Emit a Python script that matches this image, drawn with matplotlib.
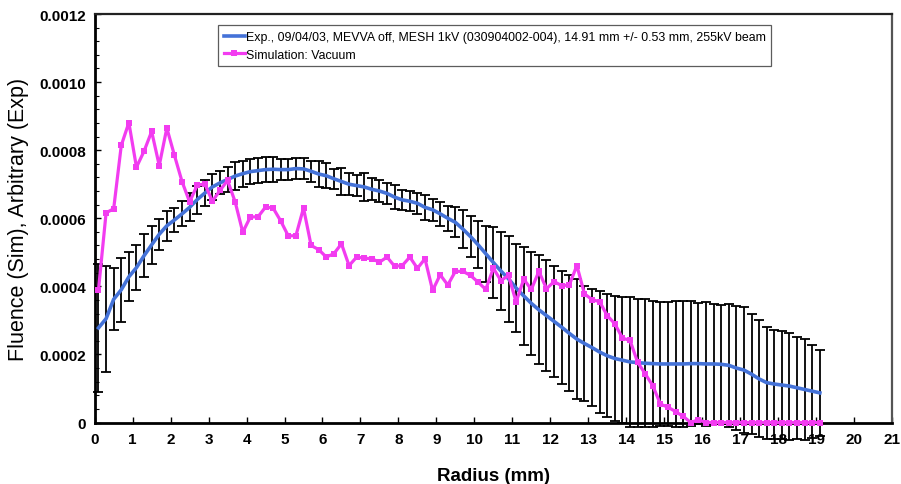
import matplotlib
matplotlib.use("Agg")
import matplotlib.pyplot as plt
from matplotlib.ticker import MultipleLocator, FixedLocator

plt.rcParams['font.family'] = ['Liberation Sans', 'DejaVu Sans']

# Radial sample positions (mm)
radius = [0.1, 0.3, 0.5, 0.7, 0.9, 1.1, 1.3, 1.5, 1.7, 1.9,
          2.1, 2.3, 2.5, 2.7, 2.9, 3.1, 3.3, 3.5, 3.7, 3.9,
          4.1, 4.3, 4.5, 4.7, 4.9, 5.1, 5.3, 5.5, 5.7, 5.9,
          6.1, 6.3, 6.5, 6.7, 6.9, 7.1, 7.3, 7.5, 7.7, 7.9,
          8.1, 8.3, 8.5, 8.7, 8.9, 9.1, 9.3, 9.5, 9.7, 9.9,
          10.1, 10.3, 10.5, 10.7, 10.9, 11.1, 11.3, 11.5, 11.7, 11.9,
          12.1, 12.3, 12.5, 12.7, 12.9, 13.1, 13.3, 13.5, 13.7, 13.9,
          14.1, 14.3, 14.5, 14.7, 14.9, 15.1, 15.3, 15.5, 15.7, 15.9,
          16.1, 16.3, 16.5, 16.7, 16.9, 17.1, 17.3, 17.5, 17.7, 17.9,
          18.1, 18.3, 18.5, 18.7, 18.9, 19.1]

# Measured profile (arbitrary units) and its uncertainty
exp_fluence = [0.000278, 0.000305, 0.000362, 0.000390, 0.000428, 0.000455, 0.000490, 0.000522, 0.000553, 0.000578,
               0.000595, 0.000613, 0.000632, 0.000655, 0.000674, 0.000692, 0.000704, 0.000714, 0.000724, 0.000731,
               0.000737, 0.000740, 0.000743, 0.000744, 0.000743, 0.000743, 0.000746, 0.000745, 0.000738, 0.000730,
               0.000725, 0.000716, 0.000708, 0.000700, 0.000696, 0.000692, 0.000685, 0.000680, 0.000673, 0.000662,
               0.000654, 0.000650, 0.000644, 0.000632, 0.000625, 0.000613, 0.000600, 0.000588, 0.000568, 0.000546,
               0.000522, 0.000496, 0.000470, 0.000445, 0.000422, 0.000395, 0.000372, 0.000350, 0.000331, 0.000314,
               0.000297, 0.000280, 0.000262, 0.000245, 0.000232, 0.000220, 0.000207, 0.000196, 0.000188, 0.000183,
               0.000178, 0.000176, 0.000174, 0.000173, 0.000172, 0.000172, 0.000172, 0.000172, 0.000173, 0.000173,
               0.000172, 0.000172, 0.000171, 0.000168, 0.000160, 0.000154, 0.000142, 0.000128, 0.000117, 0.000113,
               0.000110, 0.000107, 0.000102, 0.000097, 0.000092, 0.000087]

exp_error = [0.000188, 0.000156, 0.000091, 0.000094, 0.000072, 0.000065, 0.000063, 0.000055, 0.000046, 0.000044,
             0.000035, 0.000037, 0.000041, 0.000041, 0.000037, 0.000037, 0.000034, 0.000038, 0.000040, 0.000038,
             0.000037, 0.000037, 0.000037, 0.000036, 0.000030, 0.000032, 0.000032, 0.000031, 0.000031, 0.000037,
             0.000037, 0.000030, 0.000039, 0.000032, 0.000030, 0.000040, 0.000032, 0.000031, 0.000032, 0.000035,
             0.000030, 0.000030, 0.000030, 0.000037, 0.000032, 0.000035, 0.000037, 0.000044, 0.000056, 0.000061,
             0.000069, 0.000082, 0.000103, 0.000114, 0.000127, 0.000129, 0.000144, 0.000152, 0.000160, 0.000162,
             0.000164, 0.000166, 0.000170, 0.000176, 0.000170, 0.000172, 0.000180, 0.000181, 0.000185, 0.000185,
             0.000190, 0.000188, 0.000188, 0.000185, 0.000182, 0.000182, 0.000186, 0.000186, 0.000183, 0.000177,
             0.000183, 0.000175, 0.000175, 0.000180, 0.000182, 0.000184, 0.000176, 0.000172, 0.000164, 0.000160,
             0.000159, 0.000157, 0.000150, 0.000147, 0.000137, 0.000127]

# Simulated fluence in vacuum
sim_fluence = [0.000390, 0.000616, 0.000628, 0.000814, 0.000881, 0.000750, 0.000797, 0.000855, 0.000755, 0.000865,
               0.000785, 0.000708, 0.000648, 0.000697, 0.000701, 0.000650, 0.000682, 0.000711, 0.000648, 0.000559,
               0.000604, 0.000604, 0.000633, 0.000630, 0.000592, 0.000548, 0.000549, 0.000630, 0.000520, 0.000508,
               0.000486, 0.000496, 0.000525, 0.000461, 0.000486, 0.000483, 0.000481, 0.000471, 0.000486, 0.000459,
               0.000461, 0.000486, 0.000453, 0.000481, 0.000388, 0.000434, 0.000404, 0.000444, 0.000444, 0.000432,
               0.000412, 0.000391, 0.000453, 0.000417, 0.000432, 0.000354, 0.000421, 0.000391, 0.000444, 0.000393,
               0.000414, 0.000402, 0.000404, 0.000461, 0.000378, 0.000361, 0.000355, 0.000314, 0.000290, 0.000248,
               0.000241, 0.000177, 0.000143, 0.000108, 0.000054, 0.000045, 0.000032, 0.000018, 0.000000, 0.000008,
               0.0, 0.0, 0.0, 0.0, 0.0, 0.0, 0.0, 0.0, 0.0, 0.0,
               0.0, 0.0, 0.0, 0.0, 0.0, 0.0]

x_ticks = list(range(0, 22))
y_ticks = [0, 0.0002, 0.0004, 0.0006, 0.0008, 0.0010, 0.0012]
y_tick_labels = ['0', '0.0002', '0.0004', '0.0006', '0.0008', '0.0010', '0.0012']

exp_label = "Exp., 09/04/03, MEVVA off, MESH 1kV (030904002-004), 14.91 mm +/- 0.53 mm, 255kV beam"
sim_label = "Simulation: Vacuum"

BLUE = '#4472D8'
PINK = '#F23CF0'

fig = plt.figure(figsize=(9.01, 4.85), dpi=100)
ax = fig.add_axes([0.1051, 0.1268, 0.8849, 0.8422])

eb = ax.errorbar(radius, exp_fluence, yerr=exp_error, fmt='none', ecolor='black',
                 elinewidth=1.3, capsize=3.4, capthick=1.3, zorder=2)
for artist in eb.lines[1] + eb.lines[2]:
    artist.set_clip_on(False)

exp_line, = ax.plot(radius, exp_fluence, color=BLUE, lw=2.6, zorder=3, label=exp_label)
sim_line, = ax.plot(radius, sim_fluence, color=PINK, lw=2.3, marker='s', markersize=4.8,
                    markeredgewidth=0, zorder=4, label=sim_label, clip_on=False)

ax.set_xlim(0, 21)
ax.set_ylim(0, 0.0012)
ax.xaxis.set_major_locator(FixedLocator(x_ticks))
ax.set_xticklabels([str(t) for t in x_ticks])
ax.yaxis.set_major_locator(FixedLocator(y_ticks))
ax.set_yticklabels(y_tick_labels)
ax.yaxis.set_minor_locator(MultipleLocator(0.00004))

ax.tick_params(axis='both', which='major', direction='in', length=4, width=1,
               labelsize=11, pad=6)
ax.tick_params(axis='x', which='major', pad=7)
ax.tick_params(axis='y', which='minor', direction='in', length=3, width=0.8)
for lbl in ax.get_xticklabels() + ax.get_yticklabels():
    lbl.set_fontweight('bold')

for side in ['left', 'bottom']:
    ax.spines[side].set_linewidth(2.0)
    ax.spines[side].set_color('black')
ax.spines['top'].set_linewidth(1.6)
ax.spines['top'].set_color('#222222')
ax.spines['right'].set_linewidth(1.6)
ax.spines['right'].set_color('#555555')

ax.set_xlabel('Radius (mm)', fontsize=13.5, fontweight='bold', labelpad=15)
ax.set_ylabel('Fluence (Sim), Arbitrary (Exp)', fontsize=15.5)
ax.yaxis.set_label_coords(-0.083, 0.5)

leg = ax.legend(handles=[exp_line, sim_line], loc='upper left',
                bbox_to_anchor=(0.1547, 0.972), fontsize=8.9, frameon=True,
                fancybox=False, handlelength=1.7, handletextpad=0.1,
                borderpad=0.45, labelspacing=0.45, borderaxespad=0)
leg.get_frame().set_edgecolor('#333333')
leg.get_frame().set_linewidth(0.9)

fig.savefig('out.png', dpi=100)
